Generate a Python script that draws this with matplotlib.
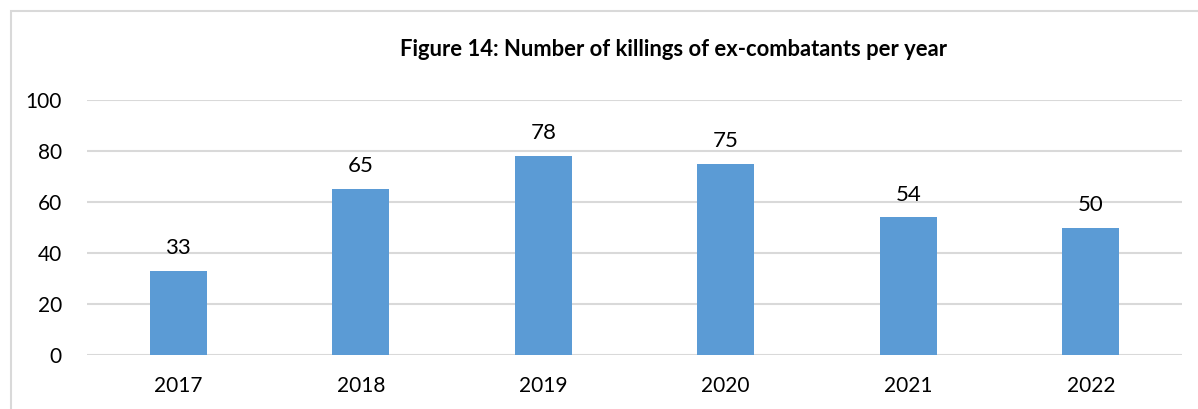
import matplotlib.pyplot as plt
from matplotlib.patches import Rectangle

years = ['2017', '2018', '2019', '2020', '2021', '2022']
killings = [33, 65, 78, 75, 54, 50]
yticks = [0, 20, 40, 60, 80, 100]

plt.rcParams['font.family'] = ['Lato', 'DejaVu Sans']

fig = plt.figure(figsize=(11.98, 4.09), dpi=100)
W, H = 1198, 409

# chart frame (only top/left edges visible in the crop)
fig.patches.append(Rectangle((11 / W, -0.1), 1.2, 1 - 11 / H + 0.1, transform=fig.transFigure,
                             fill=False, edgecolor='#d9d9d9', linewidth=1.5))

ax = fig.add_axes([87 / W, 1 - 355 / H, (1182 - 87) / W, (355 - 100) / H])
x = range(len(years))
bars = ax.bar(x, killings, width=0.31, color='#5b9bd5', zorder=3)
for b, v in zip(bars, killings):
    ax.text(b.get_x() + b.get_width() / 2, v + 5, str(v), ha='center', va='bottom', fontsize=16)

ax.set_xlim(-0.5, len(years) - 0.5)
ax.set_ylim(0, 100)
ax.set_yticks(yticks)
ax.set_xticks(list(x))
ax.set_xticklabels(years)
ax.tick_params(axis='both', length=0, labelsize=15)
ax.tick_params(axis='x', pad=15)
ax.tick_params(axis='y', pad=18)
ax.grid(axis='y', color='#d9d9d9', linewidth=1.5, zorder=0)
for s in ax.spines.values():
    s.set_visible(False)

fig.text(0.5 + 75 / W, 1 - 50 / H, 'Figure 14: Number of killings of ex-combatants per year',
         ha='center', va='center', fontsize=15.8, fontweight='bold')

fig.savefig('out.png', dpi=100)
